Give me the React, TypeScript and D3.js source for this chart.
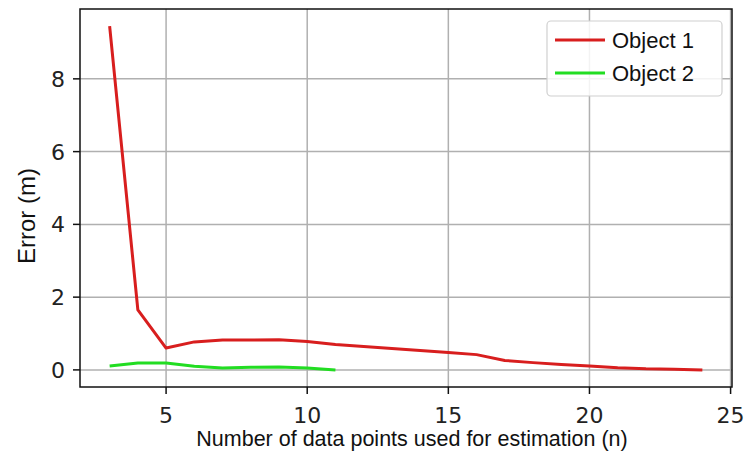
import React from "react";
import * as d3 from "d3";

const nObj1 = [3, 4, 5, 6, 7, 8, 9, 10, 11, 12, 13, 14, 15, 16, 17, 18, 19, 20, 21, 22, 23, 24];
const errObj1 = [9.45, 1.65, 0.6, 0.77, 0.82, 0.82, 0.83, 0.78, 0.7, 0.64, 0.59, 0.53, 0.48, 0.42, 0.26, 0.2, 0.15, 0.11, 0.06, 0.03, 0.02, 0.0];
const nObj2 = [3, 4, 5, 6, 7, 8, 9, 10, 11];
const errObj2 = [0.11, 0.19, 0.19, 0.1, 0.05, 0.07, 0.08, 0.05, 0.0];
const xTicks = [5, 10, 15, 20, 25];
const yTicks = [0, 2, 4, 6, 8];
const seriesNames = ["Object 1", "Object 2"];
const seriesColors = ["#d81e1e", "#22dd22"];

export default function App() {
  const W = 749, H = 454;
  const L = 80, R = 732, T = 9, B = 387;
  const x = d3.scaleLinear().domain([1.95, 25.05]).range([L, R]);
  const y = d3.scaleLinear().domain([-0.47, 9.92]).range([B, T]);
  const line = d3.line<[number, number]>().x(d => x(d[0])).y(d => y(d[1]));
  const s1 = nObj1.map((n, i) => [n, errObj1[i]] as [number, number]);
  const s2 = nObj2.map((n, i) => [n, errObj2[i]] as [number, number]);
  const tickFont = "DejaVu Sans";
  const labFont = "Liberation Sans, Arial, sans-serif";
  return (
    <svg width={W} height={H} style={{ position: "absolute", left: 0, top: 0, background: "#fff" }}>
      <rect x={0} y={0} width={W} height={H} fill="#fff" />
      {xTicks.map(t => (
        <line key={"gx" + t} x1={x(t)} x2={x(t)} y1={T} y2={B} stroke="#b0b0b0" strokeWidth={1.5} />
      ))}
      {yTicks.map(t => (
        <line key={"gy" + t} x1={L} x2={R} y1={y(t)} y2={y(t)} stroke="#b0b0b0" strokeWidth={1.5} />
      ))}
      <path d={line(s1) || ""} fill="none" stroke={seriesColors[0]} strokeWidth={3} strokeLinejoin="round" />
      <path d={line(s2) || ""} fill="none" stroke={seriesColors[1]} strokeWidth={3} strokeLinejoin="round" />
      <rect x={L} y={T} width={R - L} height={B - T} fill="none" stroke="#111" strokeWidth={1.5} />
      {xTicks.map(t => (
        <g key={"tx" + t}>
          <line x1={x(t)} x2={x(t)} y1={B} y2={B + 7} stroke="#111" strokeWidth={1.5} />
          <text x={x(t)} y={B + 36} textAnchor="middle" fontFamily={tickFont} fontSize={22} fill="#222">{t}</text>
        </g>
      ))}
      {yTicks.map(t => (
        <g key={"ty" + t}>
          <line x1={L - 7} x2={L} y1={y(t)} y2={y(t)} stroke="#111" strokeWidth={1.5} />
          <text x={L - 15} y={y(t) + 8} textAnchor="end" fontFamily={tickFont} fontSize={22} fill="#222">{t}</text>
        </g>
      ))}
      <text x={412} y={446} textAnchor="middle" fontFamily={labFont} fontSize={21.5} fill="#111">
        Number of data points used for estimation (n)
      </text>
      <text transform="translate(35, 216) rotate(-90)" textAnchor="middle" fontFamily={labFont} fontSize={24} fill="#111">
        Error (m)
      </text>
      <g>
        <rect x={547} y={21} width={175} height={75} rx={4} fill="#fff" fillOpacity={0.85} stroke="#d0d0d0" strokeWidth={1.2} />
        {seriesNames.map((nm, i) => (
          <g key={nm}>
            <line x1={555} x2={605} y1={40 + i * 33} y2={40 + i * 33} stroke={seriesColors[i]} strokeWidth={3} />
            <text x={612} y={40 + i * 33 + 8} fontFamily={labFont} fontSize={22} fill="#111">{nm}</text>
          </g>
        ))}
      </g>
    </svg>
  );
}
